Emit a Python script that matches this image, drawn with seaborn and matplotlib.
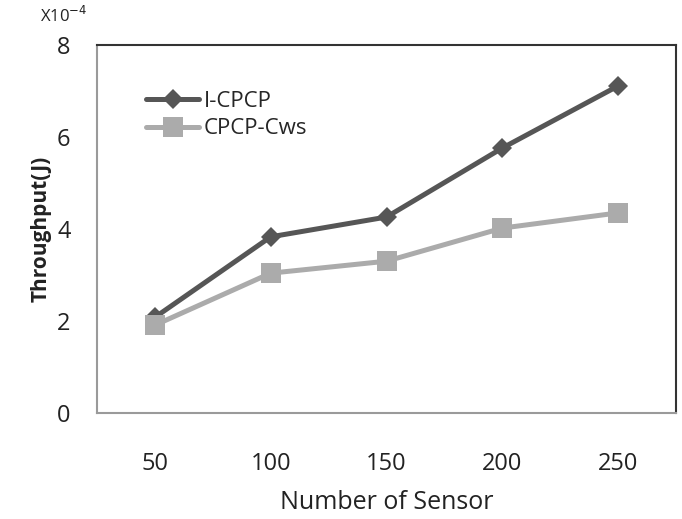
import matplotlib
matplotlib.use("Agg")

import matplotlib.pyplot as plt
import numpy as np
import pandas as pd
import seaborn as sns

# -- data (throughput in units of 1e-4 J) -----------------------------
sensors = ["50", "100", "150", "200", "250"]
i_cpcp = [2.08, 3.83, 4.26, 5.76, 7.11]
cpcp_cws = [1.91, 3.04, 3.30, 4.02, 4.35]
series_names = ["I-CPCP", "CPCP-Cws"]

# -- style -----------------------------------------------------------
sns.set_theme(style="white")
plt.rcParams["font.family"] = ["Open Sans", "DejaVu Sans"]

df = pd.DataFrame(
    {
        "pos": list(range(len(sensors))) * 2,
        "value": i_cpcp + cpcp_cws,
        "series": [series_names[0]] * len(sensors) + [series_names[1]] * len(sensors),
    }
)

fig, ax = plt.subplots(figsize=(6.82, 5.19), dpi=100)
fig.subplots_adjust(left=97 / 682, right=676 / 682, top=1 - 45 / 519, bottom=1 - 413 / 519)

sns.lineplot(
    data=df,
    x="pos",
    y="value",
    hue="series",
    style="series",
    palette={"I-CPCP": "#565656", "CPCP-Cws": "#ABABAB"},
    markers={"I-CPCP": "D", "CPCP-Cws": "s"},
    dashes=False,
    linewidth=3.6,
    markersize=10,
    markeredgewidth=0,
    ax=ax,
)
# square markers a bit bigger than diamonds
for line in ax.get_lines():
    if line.get_marker() == "s":
        line.set_markersize(14)

ax.set_xlim(-0.5, len(sensors) - 0.5)
ax.set_ylim(0, 8)
ax.set_xticks(range(len(sensors)))
ax.set_xticklabels(sensors)
ax.set_yticks([0, 2, 4, 6, 8])
ax.tick_params(axis="x", length=0, pad=28, labelsize=17, colors="#222222")
ax.tick_params(axis="y", length=0, pad=19, labelsize=17, colors="#222222")

ax.set_xlabel("Number of Sensor", fontsize=18, color="#222222", labelpad=10)
ax.set_ylabel("Throughput(J)", fontsize=15, fontweight="bold", color="#222222", labelpad=4)

for side in ["left", "bottom"]:
    ax.spines[side].set_color("#9a9a9a")
    ax.spines[side].set_linewidth(1.5)
for side in ["top", "right"]:
    ax.spines[side].set_color("#333333")
    ax.spines[side].set_linewidth(1.5)

fig.text(64 / 682, 1 - 16 / 519, r"X10$^{-4}$", fontsize=12, color="#222222",
         ha="center", va="center")

leg = ax.legend(loc="upper left", bbox_to_anchor=(0.05, 0.93), frameon=False,
                fontsize=16, handlelength=2.4, handletextpad=0.2, labelspacing=0.3)
for h in leg.legend_handles:
    h.set_linewidth(3.6)

fig.savefig("out.png", dpi=100)
plt.close(fig)
